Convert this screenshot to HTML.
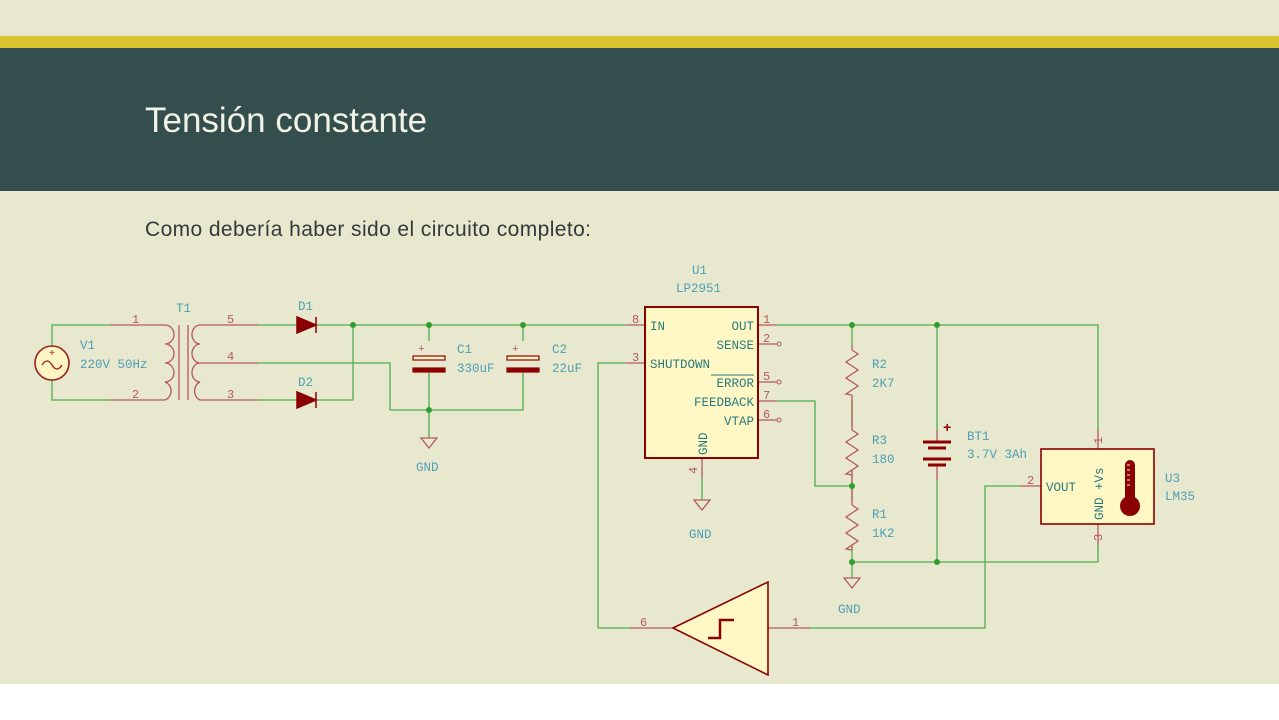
<!DOCTYPE html>
<html><head><meta charset="utf-8"><style>
html,body{margin:0;padding:0;background:#fff;}
#p{position:relative;width:1279px;height:720px;overflow:hidden;background:#fff;}
svg text{font-family:"Liberation Mono",monospace;}
</style></head><body><div id="p">
<svg width="1279" height="720" viewBox="0 0 1279 720" xmlns="http://www.w3.org/2000/svg">
<rect x="0" y="0" width="1279" height="684" fill="#e8e8cf"/>
<rect x="0" y="36" width="1279" height="12" fill="#d9c62e"/>
<rect x="0" y="48" width="1279" height="143" fill="#344e4d"/>
<text x="145" y="132" font-size="35" fill="#f2f2e6" style="font-family:'Liberation Sans',sans-serif">Tensión constante</text>
<text x="145" y="236" font-size="21" letter-spacing="0.4" fill="#333a3a" style="font-family:'Liberation Sans',sans-serif">Como debería haber sido el circuito completo:</text>

<g fill="none" stroke-width="1.3">
<g stroke="#4fae4f">
<path d="M52 346 V325 H110 M52 380 V400 H110"/>
<path d="M258 325 H297 M316 325 H626 M258 400 H297 M316 400 H353 V325"/>
<path d="M258 363 H390 V410 H523 V372 M429 372 V438 M429 341 V325 M523 341 V325"/>
<path d="M626 363 H598 V628 H630"/>
<path d="M777 325 H1098 V430"/>
<path d="M852 325 V345 M852 400 V425 M852 475 V500 M852 550 V578"/>
<path d="M777 401 H815 V486 H852"/>
<path d="M937 325 V430 M937 480 V562 M852 562 H1098 V545"/>
<path d="M810 628 H985 V486 H1020"/>
<path d="M702 478 V500"/>
</g>
<g stroke="#b45a5a">
<path d="M110 325 H165 M110 400 H165 M200 325 H258 M200 363 H258 M200 400 H258"/>
<path d="M626 325 H645 M626 363 H645 M758 325 H777 M758 344 H777 M758 382 H777 M758 401 H777 M758 420 H777 M702 458 V478"/>
<path d="M630 628 H673 M768 628 H810 M1020 486 H1041 M1098 430 V449 M1098 524 V545"/>
<path d="M852 345 V350 M852 395 V430 M852 470 V505 M852 545 V550"/>
<path d="M165 325 a9 9.5 0 0 1 0 19 a9 9.5 0 0 1 0 19 a9 9.5 0 0 1 0 19 a9 9.5 0 0 1 0 18"/>
<path d="M179 325 V400 M188 325 V400"/>
<path d="M200 325 a8 9.5 0 0 0 0 19 a8 9.5 0 0 0 0 19 a8 9.5 0 0 0 0 19 a8 9.5 0 0 0 0 18"/>
<path d="M852 350 l6 4 l-12 8 l12 8 l-12 8 l12 8 l-12 8 l6 1"/>
<path d="M852 430 l6 4 l-12 8 l12 8 l-12 8 l12 8 l-12 8 l6 1"/>
<path d="M852 505 l6 4 l-12 8 l12 8 l-12 8 l12 8 l-12 8 l6 1"/>
<path d="M937 430 V442 M937 464 V480"/>
<path d="M429 438 l-8 0 l8 10 l8 -10 z M702 500 l-8 0 l8 10 l8 -10 z M852 578 l-8 0 l8 10 l8 -10 z"/>
</g>
<g stroke="#b45a5a" stroke-width="1"><circle cx="779" cy="344" r="2"/><circle cx="779" cy="382" r="2"/><circle cx="779" cy="420" r="2"/></g>
</g>
<circle cx="52" cy="363" r="17" fill="#fff5c2" stroke="#9a2020" stroke-width="1.6"/>
<path d="M42 365 q5 -8 10 0 t10 0" fill="none" stroke="#9a2020" stroke-width="1.3"/>
<text x="52" y="356" font-size="10" fill="#9a2020" text-anchor="middle">+</text>
<g fill="#8b0000" stroke="#8b0000" stroke-width="1.5">
<path d="M297 317 L316 325 L297 333 Z M316 317 V333"/>
<path d="M297 392 L316 400 L297 408 Z M316 392 V408"/>
</g>
<g stroke="#8b0000" stroke-width="1.2">
<rect x="413" y="356" width="32" height="4" fill="#fff5c2"/><rect x="413" y="368" width="32" height="4" fill="#8b0000"/>
<rect x="507" y="356" width="32" height="4" fill="#fff5c2"/><rect x="507" y="368" width="32" height="4" fill="#8b0000"/>
<path d="M923 442 H951 M928 448 H946 M923 459 H951 M928 465 H946" stroke-width="3"/>
</g>
<text x="418" y="352" font-size="11" fill="#b45a5a">+</text><text x="512" y="352" font-size="11" fill="#b45a5a">+</text>
<text x="943" y="432" font-size="14" fill="#8b0000" font-weight="bold">+</text>
<rect x="645" y="307" width="113" height="151" fill="#fff8c4" stroke="#8b0000" stroke-width="2"/>
<path d="M673 628 L768 582 L768 675 Z" fill="#fff8c4" stroke="#8b0000" stroke-width="1.6"/>
<path d="M708 638 H720 V620 H734 M720 620 V638" fill="none" stroke="#8b0000" stroke-width="2.5"/>
<rect x="1041" y="449" width="113" height="75" fill="#fff8c4" stroke="#8b0000" stroke-width="1.6"/>
<rect x="1125" y="460" width="10" height="46" rx="5" fill="#8b0000"/>
<circle cx="1130" cy="506" r="10" fill="#8b0000"/>
<path d="M1127 465 h3 M1127 470 h3 M1127 475 h3 M1127 480 h3 M1127 485 h3" stroke="#fff8c4"/>
<g fill="#2f9e2f">
<circle cx="353" cy="325" r="3"/><circle cx="429" cy="325" r="3"/><circle cx="523" cy="325" r="3"/><circle cx="429" cy="410" r="3"/>
<circle cx="852" cy="325" r="3"/><circle cx="937" cy="325" r="3"/><circle cx="852" cy="486" r="3"/><circle cx="852" cy="562" r="3"/><circle cx="937" cy="562" r="3"/>
</g>
<g font-size="12.5" fill="#4e9fb5">
<text x="80" y="349">V1</text><text x="80" y="368">220V 50Hz</text>
<text x="176" y="312">T1</text><text x="298" y="310">D1</text><text x="298" y="386">D2</text>
<text x="457" y="353">C1</text><text x="457" y="372">330uF</text>
<text x="552" y="353">C2</text><text x="552" y="372">22uF</text>
<text x="416" y="471">GND</text><text x="689" y="538">GND</text><text x="838" y="613">GND</text>
<text x="692" y="274">U1</text><text x="676" y="292">LP2951</text>
<text x="872" y="368">R2</text><text x="872" y="387">2K7</text>
<text x="872" y="444">R3</text><text x="872" y="463">180</text>
<text x="872" y="518">R1</text><text x="872" y="537">1K2</text>
<text x="967" y="440">BT1</text><text x="967" y="458">3.7V 3Ah</text>
<text x="1165" y="482">U3</text><text x="1165" y="500">LM35</text>
</g>
<g font-size="12" fill="#b45a5a">
<text x="132" y="323">1</text><text x="132" y="398">2</text>
<text x="227" y="323">5</text><text x="227" y="360">4</text><text x="227" y="398">3</text>
<text x="632" y="323">8</text><text x="632" y="361">3</text>
<text x="763" y="323">1</text><text x="763" y="342">2</text><text x="763" y="380">5</text><text x="763" y="399">7</text><text x="763" y="418">6</text>
<text x="640" y="626">6</text><text x="792" y="626">1</text><text x="1027" y="484">2</text>
<text transform="translate(697,474) rotate(-90)">4</text>
<text transform="translate(1102,444) rotate(-90)">1</text>
<text transform="translate(1102,541) rotate(-90)">3</text>
</g>
<g font-size="12.5" fill="#2a7a80">
<text x="650" y="330">IN</text>
<text x="754" y="330" text-anchor="end">OUT</text>
<text x="754" y="349" text-anchor="end">SENSE</text>
<text x="650" y="368">SHUTDOWN</text>
<text x="754" y="387" text-anchor="end">ERROR</text>
<text x="754" y="406" text-anchor="end">FEEDBACK</text>
<text x="754" y="425" text-anchor="end">VTAP</text>
<text transform="translate(707,455) rotate(-90)">GND</text>
<text x="1046" y="491">VOUT</text>
<text transform="translate(1103,490) rotate(-90)">+Vs</text>
<text transform="translate(1103,520) rotate(-90)">GND</text>
</g>
<path d="M711 375 H754" stroke="#2a7a80" stroke-width="1"/>
</svg>
</div></body></html>
